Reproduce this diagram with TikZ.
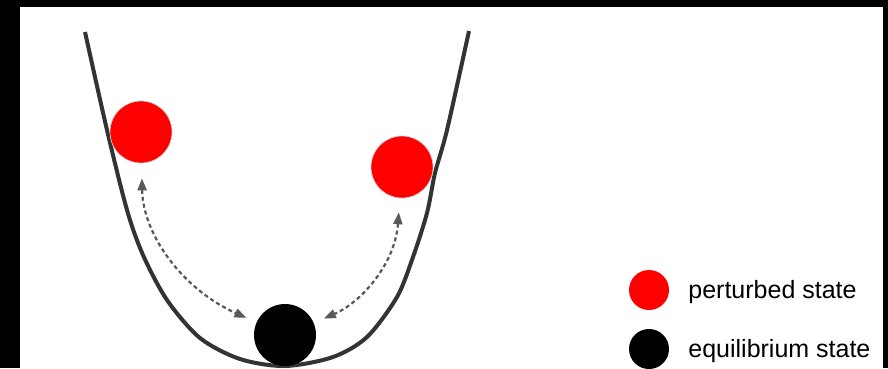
\documentclass[tikz,border=0pt]{standalone}
\usepackage{fontspec}
\setmainfont{Liberation Sans}
\usetikzlibrary{positioning, arrows.meta}

\begin{document}
\begin{tikzpicture}[
  x=1pt, y=-1pt,
  node distance=19pt,
  every node/.style={font=\fontsize{25}{29}\selectfont},
  ball/.style={circle, minimum size=62pt, inner sep=0pt},
  perturbed/.style={ball, fill=red, draw=black!20, line width=0.7pt},
  equil/.style={ball, fill=black},
  legball/.style={circle, minimum size=40pt, inner sep=0pt},
  arr/.style={{Triangle[length=12pt,width=9pt]}-{Triangle[length=12pt,width=9pt]}, dash pattern=on 4pt off 3pt, line width=2.2pt, draw=black!65}
]
  % frame
  \fill[black] (0,0) rectangle (888,368);
  \fill[white] (20,7) rectangle (883,368);
  \useasboundingbox (0,0) rectangle (888,368);

  % potential well
  \draw[line width=4pt, black!80] plot[smooth] coordinates {
    (85,32) (107,130) (127,210) (143,255) (167,300) (200,338) (240,359) (285,366)
    (333,357) (367,337) (397,297) (413,257) (427,213) (435,173) (447,130) (469,31)};

  \node[perturbed] (left)  at (141,132) {};
  \node[perturbed] (right) at (402,167) {};
  \node[equil]     (eq)    at (285,335) {};

  \draw[arr, shorten <=15pt, shorten >=11pt] (left) .. controls (143,236) and (184,290) .. (eq);
  \draw[arr, shorten <=14pt, shorten >=11pt] (right) .. controls (395,265) and (360,303) .. (eq);

  % legend
  \node[legball, fill=red]   (legP) at (649,290) {};
  \node[legball, fill=black] (legE) at (649,349) {};
  \node[right=of legP, yshift=-2.5pt, inner sep=0pt] (txtP) {perturbed state};
  \node[right=of legE, yshift=-2.5pt, inner sep=0pt] (txtE) {equilibrium state};
\end{tikzpicture}
\end{document}
